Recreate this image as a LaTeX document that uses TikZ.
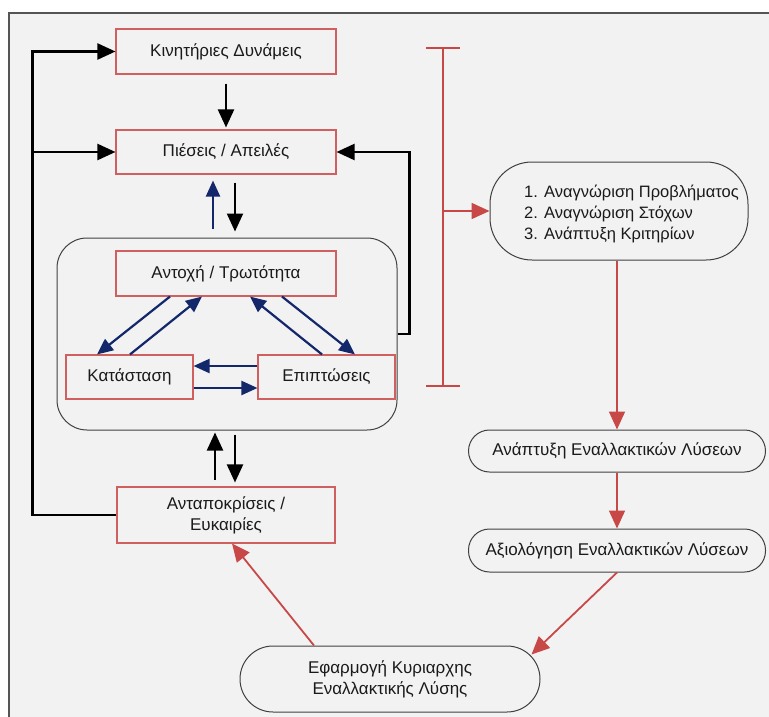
\documentclass[tikz,border=0pt]{standalone}
\usepackage{fontspec}
\setmainfont{Liberation Sans}
\usetikzlibrary{arrows.meta,calc}
\definecolor{bgray}{HTML}{F2F2F2}
\definecolor{frameg}{HTML}{555555}
\definecolor{boxred}{HTML}{D06060}
\definecolor{arrred}{HTML}{C84848}
\definecolor{navyb}{HTML}{13276B}
\definecolor{txt}{HTML}{1A1A1A}
\begin{document}
\begin{tikzpicture}[x=1pt,y=-1pt,
  every node/.style={font=\fontsize{17}{21}\selectfont, text=txt, inner sep=0pt},
  redbox/.style={draw=boxred, line width=1.1pt, rectangle},
  pill/.style={draw=black!75, line width=1pt, rectangle},
  blk/.style={draw=black, line width=2.2pt, -{Triangle[length=18pt,width=16pt]}},
  nvy/.style={draw=navyb, line width=2.2pt, -{Triangle[length=16pt,width=14pt]}},
  redarr/.style={draw=arrred, line width=1.8pt, -{Triangle[length=18pt,width=16pt]}},
  redln/.style={draw=arrred, line width=1.6pt}]
\useasboundingbox (0,0) rectangle (769,717);
% background panel with its top and left edges
\fill[bgray] (9,13) rectangle (769,717);
\draw[frameg, line width=1.4pt] (769,13) -- (9,13) -- (9,717);

% left-hand system
\node[redbox, minimum width=220pt, minimum height=45pt] (kin) at (226,51.5) {Κινητήριες Δυνάμεις};
\node[redbox, minimum width=220pt, minimum height=44pt] (pie) at (226,152) {Πιέσεις / Απειλές};
\node[pill, rounded corners=30pt, minimum width=340pt, minimum height=192pt] (cont) at (227,334) {};
\node[redbox, minimum width=220pt, minimum height=45pt] (ant) at (226,273.5) {Αντοχή / Τρωτότητα};
\node[redbox, minimum width=127pt, minimum height=44pt] (kat) at (129.5,377) {Κατάσταση};
\node[redbox, minimum width=137pt, minimum height=44pt] (epi) at (326.5,377) {Επιπτώσεις};
\node[redbox, minimum width=218pt, minimum height=56pt, align=center] (anta) at (226,515) {Ανταποκρίσεις /\\Ευκαιρίες};

% right-hand process
\node[pill, rounded corners=42pt, minimum width=258pt, minimum height=98pt] (s1) at (619,211) {};
\node[anchor=west, align=left, font=\fontsize{16.5}{21}\selectfont] (s1txt) at (524,214) {1. Αναγνώριση Προβλήματος\\2. Αναγνώριση Στόχων\\3. Ανάπτυξη Κριτηρίων};
\node[pill, rounded corners=21pt, minimum width=297pt, minimum height=42pt] (an) at (617,451) {Ανάπτυξη Εναλλακτικών Λύσεων};
\node[pill, rounded corners=21pt, minimum width=297pt, minimum height=43pt] (ax) at (617,550.5) {Αξιολόγηση Εναλλακτικών Λύσεων};
\node[pill, rounded corners=33pt, minimum width=300pt, minimum height=66pt, align=center] (ef) at (390,679) {Εφαρμογή Κυριαρχης\\Εναλλακτικής Λύσης};

% feedback lines on the left
\coordinate (lb) at (33,152);
\draw[blk] (anta.west) -- ++(-84,0) |- (kin.west);
\draw[blk] (lb) -- (pie.west);
\draw[blk, shorten <=9pt, shorten >=2pt] (kin.south) -- (pie.north);
\draw[blk] (cont.east) -- ++(12,0) |- (pie.east);

% links between the pressures box and the inner system
\draw[nvy, shorten <=9pt, shorten >=6pt] ([xshift=-14pt]cont.north) -- ([xshift=-13pt]pie.south);
\draw[blk, shorten <=8pt, shorten >=6pt] ([xshift=9pt]pie.south) -- ([xshift=8pt]cont.north);
\draw[blk, shorten <=6pt, shorten >=2pt] ([xshift=-11pt]anta.north) -- ([xshift=-12pt]cont.south);
\draw[blk, shorten <=4pt, shorten >=4pt] ([xshift=8pt]cont.south) -- ([xshift=9pt]anta.north);

% inner triangle
\draw[nvy] ([xshift=-56pt]ant.south) -- ([xshift=-32.5pt]kat.north);
\draw[nvy] ([xshift=0.5pt]kat.north) -- ([xshift=-24pt]ant.south);
\draw[nvy] ([xshift=-4.5pt]epi.north) -- ([xshift=24pt]ant.south);
\draw[nvy] ([xshift=56pt]ant.south) -- ([xshift=28.5pt]epi.north);
\draw[nvy] ([yshift=11pt]epi.west) -- ([yshift=11pt]kat.east);
\draw[nvy] ([yshift=-11pt]kat.east) -- ([yshift=-11pt]epi.west);

% bracket and decision steps
\coordinate (bt) at (443,48);
\coordinate (bb) at (443,386);
\draw[redln] (bt) -- (bb);
\draw[redln] ([xshift=-17pt]bt) -- ([xshift=17pt]bt);
\draw[redln] ([xshift=-17pt]bb) -- ([xshift=17pt]bb);
\draw[redarr] (bt |- s1.west) -- (s1.west);
\draw[redarr] (s1.south -| an.north) -- (an.north);
\draw[redarr] (an.south) -- (ax.north);
\draw[redarr] (ax.south) -- ($(ef.north east)+(-9,9)$);
\draw[redarr] ([xshift=-76pt]ef.north) -- ([xshift=6pt]anta.south);
\end{tikzpicture}
\end{document}
